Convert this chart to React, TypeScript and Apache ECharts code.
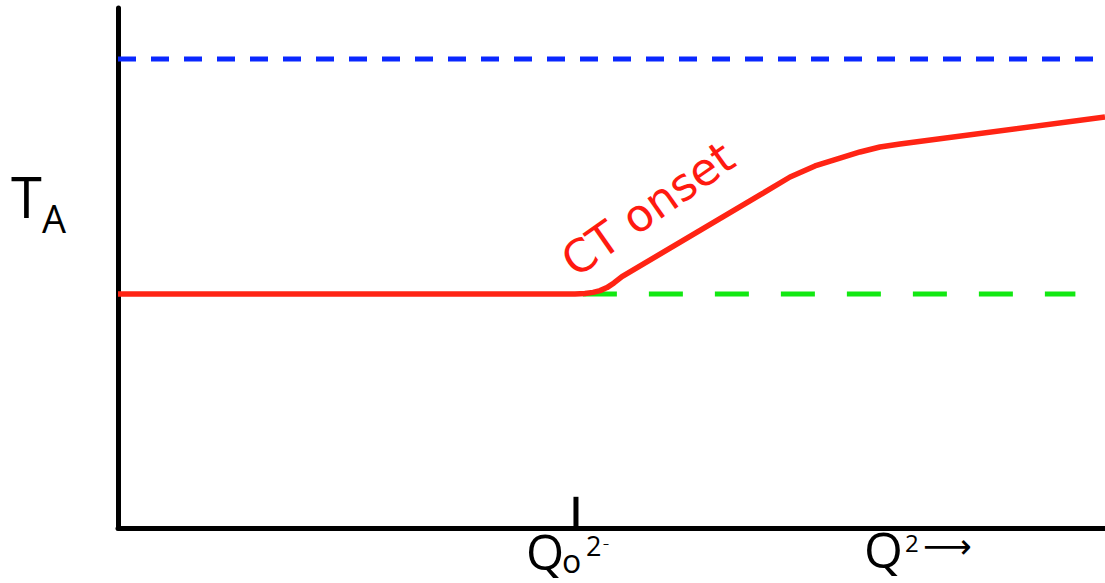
import React, { useEffect, useRef } from "react";
import * as echarts from "echarts";

// Red T_A curve: flat baseline, CT onset rise, then a gentle slope
const redCurve: [number, number][] = [
  [0, 45],
  [46.3, 45],
  [47.31, 45.08],
  [48.13, 45.31],
  [48.84, 45.65],
  [49.54, 46.23],
  [50.25, 47.13],
  [51.06, 48.35],
  [65.05, 64.04],
  [68.09, 67.5],
  [70.62, 69.62],
  [73.15, 71.15],
  [75.18, 72.31],
  [77.2, 73.27],
  [79.23, 73.85],
  [100, 79.04],
];

// Reference levels
const blueLevel = 90.2;
const blueSpan = [0, 100];
const greenLevel = 45;
const greenSpan = [47.1, 97];

// Tick marking Q0^2 on the horizontal axis
const q0Position = 46.4;
const q0TickHeight = 6;

export default function App() {
  const ref = useRef<HTMLDivElement>(null);

  useEffect(() => {
    if (!ref.current) return;
    const chart = echarts.init(ref.current, null, { renderer: "svg" });
    const labelFont = "'Open Sans', 'Noto Sans', sans-serif";

    const label = (
      text: string,
      x: number,
      y: number,
      size: number,
      family: string = labelFont
    ) => ({
      type: "text",
      x,
      y,
      style: {
        text,
        fill: "#000",
        font: `${size}px ${family}`,
        align: "left",
        verticalAlign: "middle",
      },
    });

    chart.setOption({
      animation: false,
      backgroundColor: "#ffffff",
      grid: { left: 118, right: 0, top: 8, bottom: 55 },
      xAxis: {
        type: "value",
        min: 0,
        max: 100,
        axisLine: { show: true, lineStyle: { color: "#000", width: 5 } },
        axisTick: { show: false },
        axisLabel: { show: false },
        splitLine: { show: false },
      },
      yAxis: {
        type: "value",
        min: 0,
        max: 100,
        axisLine: { show: true, lineStyle: { color: "#000", width: 5 } },
        axisTick: { show: false },
        axisLabel: { show: false },
        splitLine: { show: false },
      },
      series: [
        {
          type: "line",
          data: [
            [blueSpan[0], blueLevel],
            [blueSpan[1], blueLevel],
          ],
          symbol: "none",
          lineStyle: { color: "#0a28ff", width: 5, type: [18, 15] },
          z: 3,
        },
        {
          type: "line",
          data: [
            [greenSpan[0], greenLevel],
            [greenSpan[1], greenLevel],
          ],
          symbol: "none",
          lineStyle: { color: "#12e812", width: 5, type: [34, 32] },
          z: 3,
        },
        {
          type: "line",
          data: redCurve,
          symbol: "none",
          smooth: false,
          lineStyle: { color: "#ff2414", width: 5.5, join: "round" },
          z: 4,
        },
        {
          type: "line",
          data: [
            [q0Position, 0],
            [q0Position, q0TickHeight],
          ],
          symbol: "none",
          lineStyle: { color: "#000", width: 5 },
          z: 5,
        },
      ],
      graphic: [
        {
          type: "text",
          x: 648,
          y: 209,
          rotation: (35 * Math.PI) / 180,
          style: {
            text: "CT onset",
            fill: "#ff1a10",
            font: "45px 'DejaVu Sans', sans-serif",
            align: "center",
            verticalAlign: "middle",
          },
        },
        label("T", 11, 196, 56),
        label("A", 42, 218, 38),
        label("Q", 526, 551, 49),
        label("o", 562, 560, 32),
        label("2", 586, 545, 27),
        label("\u2013", 603, 543, 12),
        label("Q", 864, 549, 50),
        label("2", 905, 542, 24),
        label("\u27F6", 923, 546, 34, "'DejaVu Sans', sans-serif"),
      ],
    });

    return () => chart.dispose();
  }, []);

  return (
    <div
      ref={ref}
      style={{ position: "fixed", left: 0, top: 0, width: 1105, height: 583 }}
    />
  );
}
